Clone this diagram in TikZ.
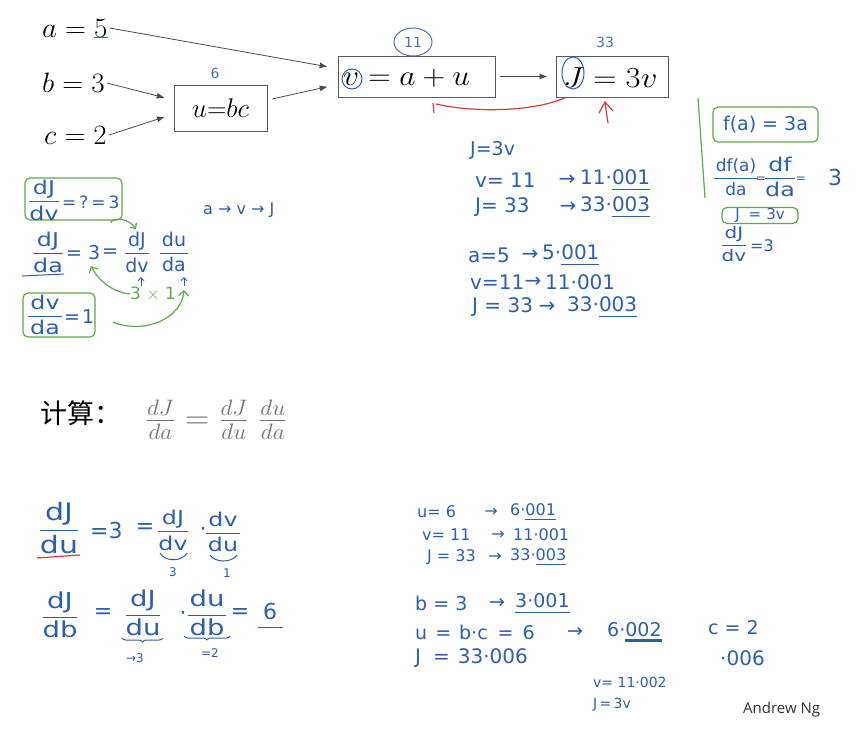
\documentclass[tikz,border=0pt]{standalone}
\usepackage{fontspec}
\usepackage{amsmath}
\usepackage{graphicx}
\usetikzlibrary{arrows.meta,decorations.pathreplacing}
\newfontfamily\hwf{DejaVu Sans}
\newfontfamily\cjk{Noto Sans CJK SC}
\newfontfamily\sigf{Open Sans}
\definecolor{hwblue}{RGB}{45,95,175}
\definecolor{hwgreen}{RGB}{95,170,75}
\definecolor{hwred}{RGB}{215,60,60}
\definecolor{lblblue}{RGB}{80,110,190}
\newcommand{\hsc}{1.25}
\newcommand{\hfr}[3][2pt]{\ensuremath{\genfrac{}{}{1.1pt}{0}{\hspace{#1}\mbox{\scalebox{\hsc}[1]{#2}}\hspace{#1}}{\mbox{\scalebox{\hsc}[1]{#3}}}}}
\newcommand{\hto}{→}
\newcommand{\mth}[3]{\scalebox{#1}[#2]{\fontsize{20.74}{24}\selectfont$#3$}}
\newsavebox\hulbox
\newcommand{\hul}[2][1pt]{\sbox\hulbox{#2}\rlap{\raisebox{-5pt}{\textcolor{hwblue}{\rule{\wd\hulbox}{#1}}}}\usebox\hulbox}
\begin{document}
\begin{tikzpicture}[x=1pt,y=-1pt,
  mt/.style={inner sep=0pt},
  bx/.style={draw=black!65, line width=1pt, inner sep=0pt},
  ar/.style={-{Latex[length=8pt,width=6pt]}, line width=0.8pt, draw=black!70},
  lbl/.style={text=lblblue, font=\hwf\fontsize{14}{16}\selectfont, inner sep=0pt},
  hw/.style={text=hwblue, font=\hwf\fontsize{19}{21}\selectfont, inner sep=0pt, anchor=west},
  hwm/.style={hw, font=\hwf\fontsize{20}{22}\selectfont},
  hws/.style={hw, font=\hwf\fontsize{16}{18}\selectfont},
  hwt/.style={hw, font=\hwf\fontsize{14}{16}\selectfont},
  hwx/.style={hw, font=\hwf\fontsize{12}{14}\selectfont},
  hwl/.style={hw, font=\hwf\fontsize{22}{24}\selectfont},
  hwxl/.style={hw, font=\hwf\fontsize{24}{26}\selectfont},
  ctr/.style={anchor=center},
  gbox/.style={draw=hwgreen, line width=1.2pt, rounded corners=5pt, inner sep=0pt},
  bl/.style={draw=hwblue, line width=1pt},
  gl/.style={draw=hwgreen, line width=1.2pt},
  rl/.style={draw=hwred, line width=1.2pt},
]
\fill[white] (0,0) rectangle (867,742);
\useasboundingbox (0,0) rectangle (867,742);

% ---- top graph ----
\node[mt, anchor=west] (a) at (42,28) {\mth{1.4}{1.35}{a = 5}};
\node[mt, anchor=west] (b) at (42,83) {\mth{1.4}{1.35}{b = 3}};
\node[mt, anchor=west] (c) at (44,135) {\mth{1.4}{1.35}{c = 2}};
\draw[bl] (94,37) -- (108,37);
\node[bx, minimum width=93pt, minimum height=46pt] (u) at (220.5,108) {};
\node[mt] (ut) at (u.center) {\mth{1.3}{1.3}{u{=}bc}};
\node[bx, minimum width=157pt, minimum height=41pt] (v) at (416.5,76.5) {};
\node[mt, anchor=west] (vt) at (343,78) {\mth{1.52}{1.4}{v = a + u}};
\node[bx, minimum width=112pt, minimum height=41pt] (J) at (612,76.5) {};
\node[mt, anchor=west] (Jt) at (563,78) {\mth{1.58}{1.4}{J = 3v}};
\node[lbl] (l6) at (215,73) {6};
\node[lbl] (l11) at (413,42) {11};
\node[lbl] (l33) at (605,42) {33};
\draw[bl, draw=lblblue] (l11.center) ellipse [x radius=19, y radius=14];
\draw[bl] (352,79) circle [radius=10];
\draw[bl] (573,73) ellipse [x radius=11, y radius=16];

\draw[ar, shorten >=10pt] ([xshift=2pt]a.east) -- ([yshift=8pt]v.west);
\draw[ar, shorten >=9pt] ([xshift=2pt]b.east) -- ([yshift=8pt]u.west);
\draw[ar, shorten >=9pt] ([xshift=2pt]c.east) -- ([yshift=-6pt]u.west);
\draw[ar, shorten <=5pt, shorten >=10pt] ([yshift=8pt]u.east) -- ([yshift=-8pt]v.west);
\draw[ar, shorten <=4pt, shorten >=8pt] (v.east) -- (J.west);

\draw[rl] ([xshift=-46pt]J.south) .. controls (530,113) and (470,112) .. (436,104);
\draw[rl] (433,103) -- (434,113);
\draw[rl] (608,123) -- (605,103);
\draw[rl] (599,113) -- (605,102) -- (613,111);

% ---- left notes ----
\node[gbox, minimum width=97pt, minimum height=42pt] (g1) at (73.5,199) {};
\node[hw, ctr] (g1f) at (44,200) {\hfr{dJ}{dv}};
\node[hw, font=\hwf\fontsize{17}{19}\selectfont] (g1r) at (62,202) {=\hspace{3pt}?\hspace{3pt}=\hspace{3pt}3};
\node[hw, ctr] (r2a) at (48,252) {\hfr{dJ}{da}};
\node[hw] (r2b) at (66,253) {= 3};
\node[hw, ctr] (r2c) at (110,253) {=};
\node[hw, ctr] (r2d) at (137,252) {\renewcommand{\hsc}{1}\hfr{dJ}{dv}};
\node[hw, ctr] (r2e) at (174,252) {\renewcommand{\hsc}{1}\hfr{du}{da}};
\draw[bl] (22,276) -- (64,274);
\draw[bl, -{Straight Barb[length=3pt]}] (141,286) -- (141,277);
\draw[bl, -{Straight Barb[length=3pt]}] (184,286) -- (184,277);
\node[text=hwgreen, font=\hwf\fontsize{17}{19}\selectfont, inner sep=0pt] (g31) at (153,294) {3 $\times$ 1};
\draw[gl, -{Straight Barb[length=5pt]}] (g31.west) .. controls (112,292) and (98,280) .. (91,266);
\node[gbox, minimum width=72pt, minimum height=44pt] (g2) at (59,315) {};
\node[hw, ctr] (g2f) at (45,315) {\hfr{dv}{da}};
\node[hw] (g2r) at (64,317) {=\hspace{2pt}1};
\draw[gl, -{Straight Barb[length=5pt]}] ([xshift=17pt,yshift=-7pt]g2.east) .. controls (145,335) and (182,318) .. (184,290);
\draw[gl, -{Straight Barb[length=4pt]}] ([xshift=-12pt,yshift=-2pt]g1.south east) .. controls (114,217) and (128,218) .. (136,229);
\node[hws] (avj) at (203,210) {a \hto{} v \hto{} J};

% ---- middle notes ----
\node[hw] (m1) at (470,150) {J=3v};
\node[hwm] (m2a) at (475,180) {v= 11};
\node[hwm, ctr] (m2b) at (567,180) {\hto};
\node[hwm] (m2c) at (580,180) {11·\hul{001}};
\node[hwm] (m3a) at (475,207) {J= 33};
\node[hwm, ctr] (m3b) at (568,207) {\hto};
\node[hwm] (m3c) at (580,207) {33·\hul{003}};
\node[hwm] (m4a) at (468,255) {a=5};
\node[hwm, ctr] (m4b) at (530,255) {\hto};
\node[hwm] (m4c) at (542,255) {5·\hul{001}};
\node[hwm] (m5a) at (470,282) {v=11};
\node[hwm, ctr] (m5b) at (533,282) {\hto};
\node[hwm] (m5c) at (545,282) {11·001};
\node[hwm] (m6a) at (472,307) {J = 33};
\node[hwm, ctr] (m6b) at (547,307) {\hto};
\node[hwm] (m6c) at (567,307) {33·\hul{003}};

% ---- right notes ----
\draw[gl] (698,98) -- (705,198);
\node[gbox, minimum width=105pt, minimum height=35pt, text=hwblue, font=\hwf\fontsize{19}{21}\selectfont] (fa) at (765.5,124.5) {f(a) = 3a};
\node[hw, ctr, font=\hwf\fontsize{17}{19}\selectfont] (dfa1) at (736,177) {\renewcommand{\hsc}{1}\hfr{df(a)}{da}};
\node[hwx, ctr] (dfa2) at (761,180) {=};
\node[hw, ctr] (dfa3) at (780,177) {\hfr{df}{da}};
\node[hwx, ctr] (dfa4) at (801,180) {=};
\node[hwl, ctr] (dfa5) at (835,177) {3};
\node[gbox, minimum width=76pt, minimum height=16pt, text=hwblue, font=\hwf\fontsize{15}{17}\selectfont] (j3v) at (760,215.5) {J\hspace{9pt}=\hspace{5pt}3v};
\node[hws, ctr] (djdv1) at (734,244) {\hfr{dJ}{dv}};
\node[hws] (djdv2) at (750,246) {=3};

% ---- formula line ----
\node[font=\cjk\fontsize{27}{30}\selectfont, anchor=west, inner sep=0pt] (calc) at (40,413) {计算：};
\node[text=black!55, anchor=west, inner sep=0pt] (eq) at (145,420) {\mth{1.62}{1.55}{\frac{dJ}{da} = \frac{dJ}{du}\;\frac{du}{da}}};

% ---- bottom left ----
\node[hwxl, ctr] (q1) at (59,528) {\hfr{dJ}{du}};
\node[hwl] (q2) at (90,530) {=3};
\node[hwl, ctr] (q3) at (145,528) {=};
\node[hw, ctr] (q4) at (173,530) {\hfr{dJ}{dv}};
\node[hwl, ctr] (q5) at (203,532) {·};
\node[hw, ctr] (q6) at (223,532) {\hfr{dv}{du}};
\draw[rl] (37,558) -- (80,555);
\draw[bl] (160,553) .. controls (165,562) and (182,562) .. (187,553);
\node[hwx, ctr] (q7) at (173,572) {3};
\draw[bl] (210,555) .. controls (215,563) and (232,563) .. (237,555);
\node[hwx, ctr] (q8) at (227,573) {1};

\node[hwl, ctr] (p1) at (60,615) {\hfr{dJ}{db}};
\node[hwl, ctr] (p2) at (103,613) {=};
\node[hwl, ctr] (p3) at (143,613) {\hfr{dJ}{du}};
\node[hwl, ctr] (p4) at (183,616) {·};
\node[hwl, ctr] (p5) at (207,613) {\hfr{du}{db}};
\node[hwl, ctr] (p6) at (240,613) {=};
\node[hwl, ctr] (p7) at (270,611) {6};
\draw[bl] (258,627) -- (283,627);
\draw[bl, decorate, decoration={brace, mirror, amplitude=4pt}] (122,638) -- (163,638);
\node[hwx, ctr] (p8) at (135,658) {\hto3};
\draw[bl, decorate, decoration={brace, mirror, amplitude=4pt}] (184,636) -- (230,636);
\node[hwx, ctr] (p9) at (210,653) {=2};

% ---- bottom right ----
\node[hws] (s1a) at (417,512) {u= 6};
\node[hws, ctr] (s1b) at (491,512) {\hto};
\node[hws] (s1c) at (510,512) {6·\hul{001}};
\node[hws] (s2a) at (422,535) {v= 11};
\node[hws, ctr] (s2b) at (498,535) {\hto};
\node[hws] (s2c) at (513,535) {11·001};
\node[hws] (s3a) at (427,557) {J = 33};
\node[hws, ctr] (s3b) at (495,557) {\hto};
\node[hws] (s3c) at (510,557) {33·\hul{003}};
\node[hw] (s4a) at (415,603) {b = 3};
\node[hw, ctr] (s4b) at (497,603) {\hto};
\node[hw] (s4c) at (515,603) {\hul{3·001}};
\node[hw] (s5a) at (415,632) {u\hspace{8pt}=\hspace{8pt}b·c\hspace{10pt}=\hspace{9pt}6};
\node[hw, ctr] (s5b) at (575,632) {\hto};
\node[hw] (s5c) at (607,632) {6·\hul[2.5pt]{002}};
\node[hw] (s6) at (708,628) {c = 2};
\node[hwm] (s7) at (415,658) {J\hspace{12pt}=\hspace{8pt}33·006};
\node[hwm] (s8) at (720,658) {·006};
\node[hwt] (s9) at (593,682) {v= 11·002};
\node[hwt] (s10) at (593,705) {J\,=\,3v};
\node[font=\sigf\fontsize{15}{17}\selectfont, text=black!80, anchor=west, inner sep=0pt] (ng) at (743,710) {Andrew Ng};
\end{tikzpicture}
\end{document}
